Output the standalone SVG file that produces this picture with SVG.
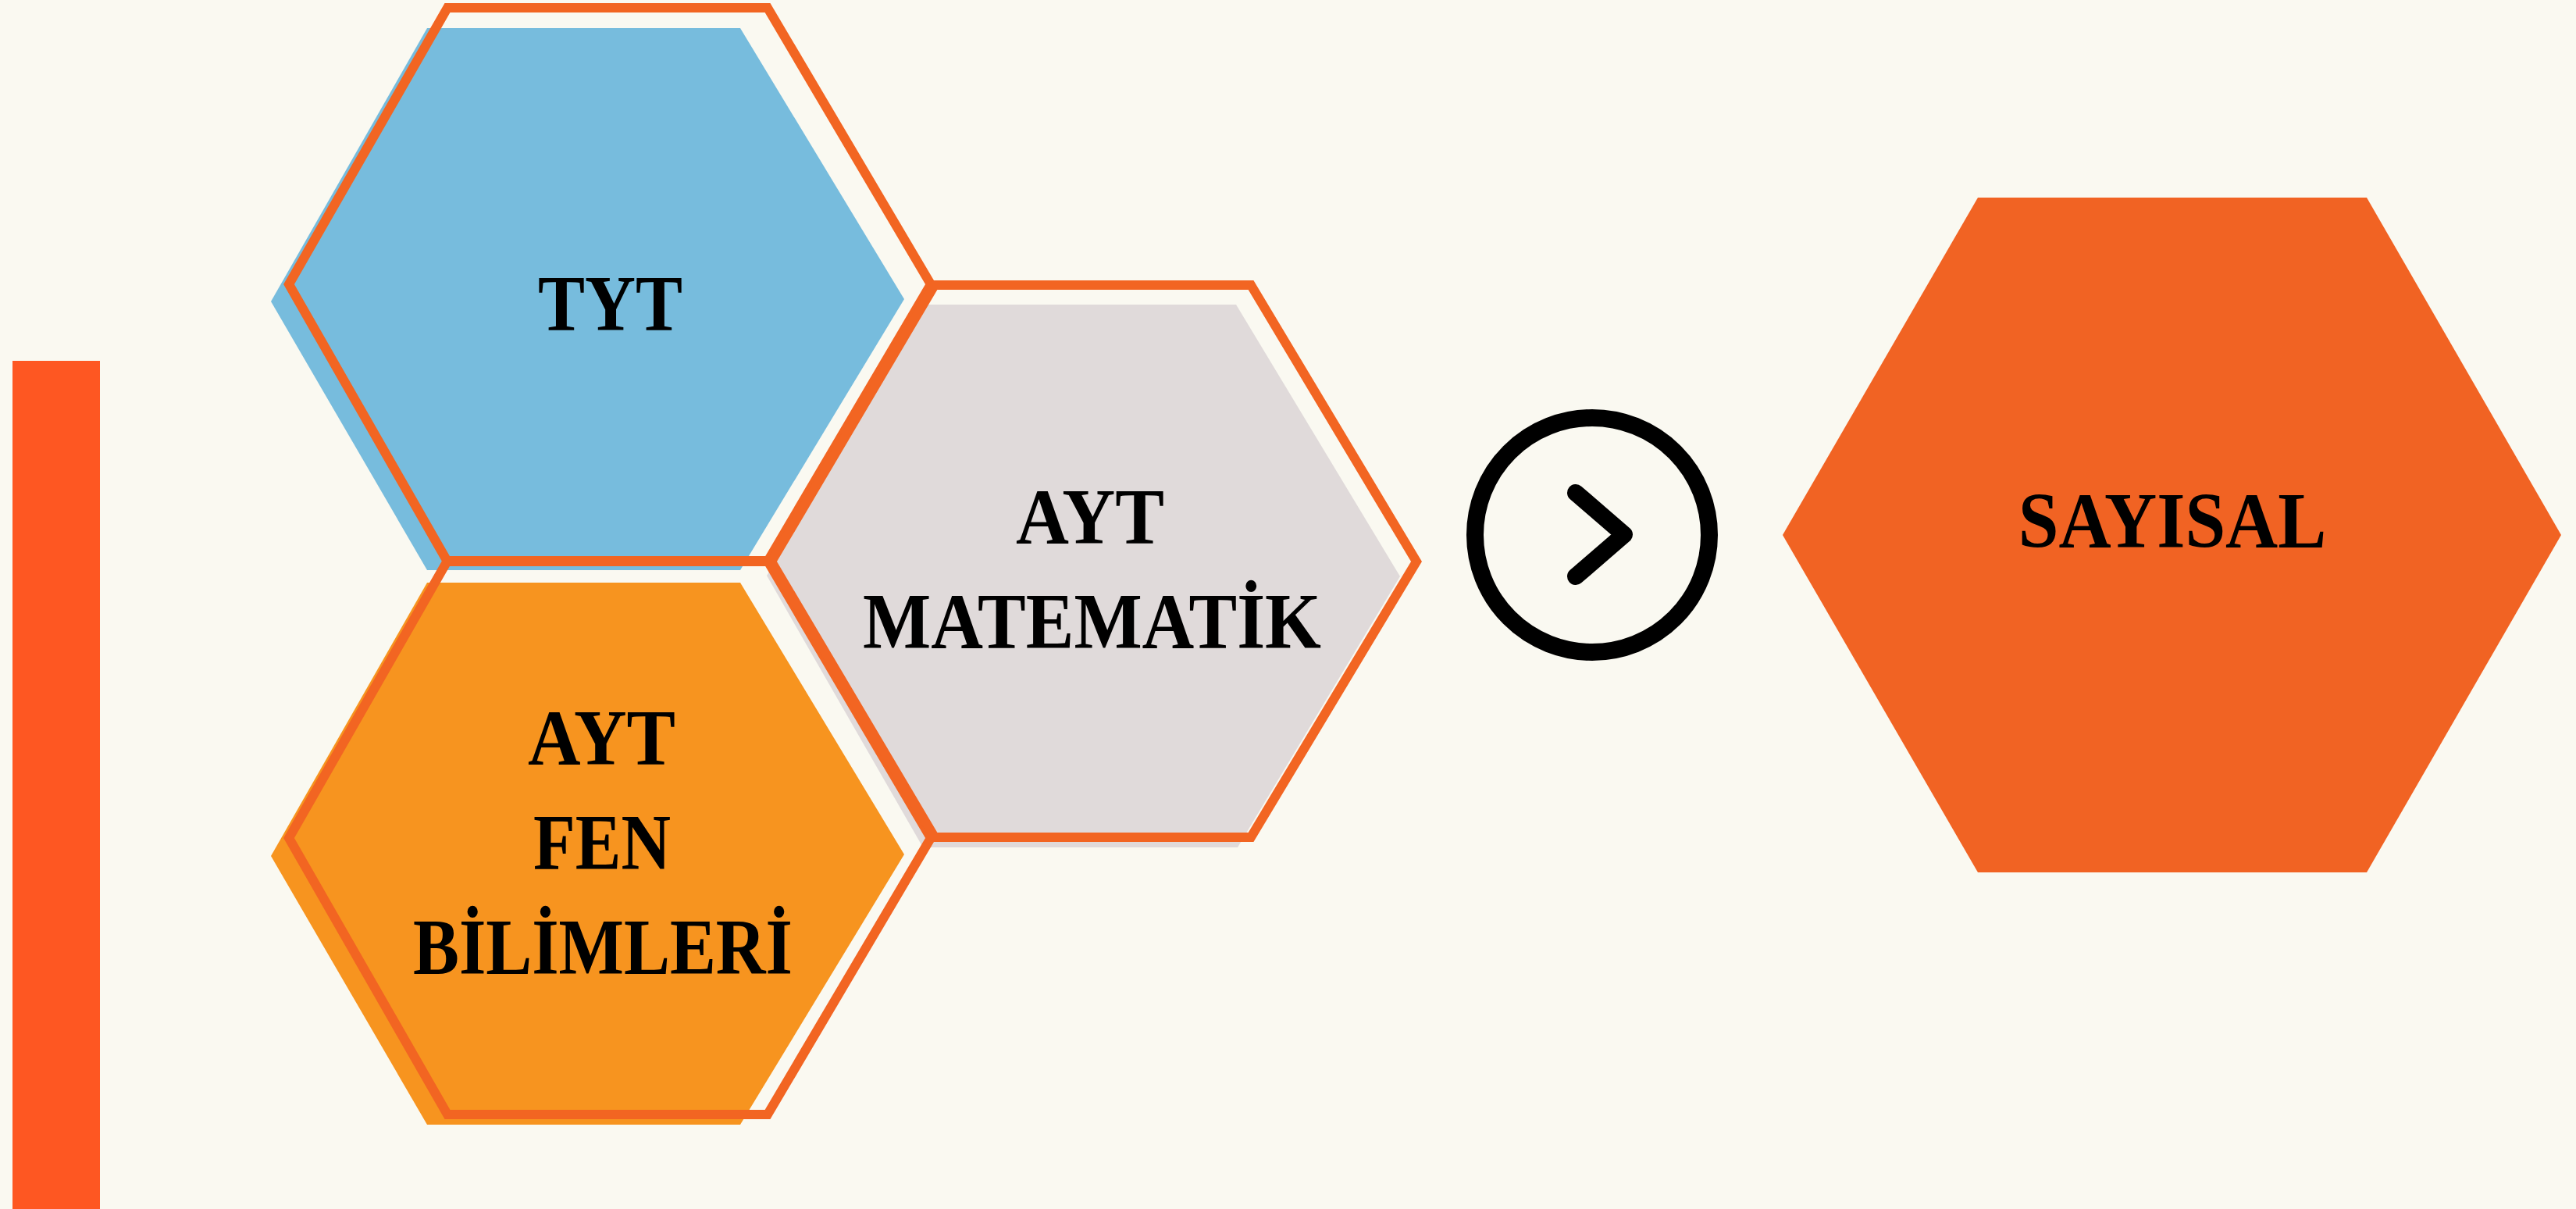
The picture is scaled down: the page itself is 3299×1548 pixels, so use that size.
<svg xmlns="http://www.w3.org/2000/svg" width="3299" height="1548" viewBox="0 0 3299 1548">
  <style>
    .lbl { font-family: "Liberation Serif", "Times New Roman", serif; font-weight: bold; font-size: 101px; fill: #000; text-anchor: middle; }
    .outline { fill: none; stroke: #F26522; stroke-width: 12; stroke-linejoin: miter; }
  </style>
  <rect x="0" y="0" width="3299" height="1548" fill="#FAF9F1"/>
  <rect id="side-bar" x="16" y="462" width="112" height="1086" fill="#FE5722"/>

  <g id="node-tyt">
    <polygon points="547,36 948,36 1158,383 948,730 547,730 347,386" fill="#77BCDD"/>
  </g>
  <g id="node-fen">
    <polygon points="547,746 948,746 1158,1094 948,1440 547,1440 347,1096" fill="#F7941F"/>
  </g>
  <g id="node-matematik">
    <polygon points="1188,390 1583,390 1793,738 1585,1085 1182,1085 982,737" fill="#E0DADA"/>
  </g>

  <g id="outlines">
    <polygon class="outline" points="573,10 983,10 1192,364 983,719 573,719 370,364"/>
    <polygon class="outline" points="573,718 983,718 1192,1073 983,1427 573,1427 370,1073"/>
    <polygon class="outline" points="1197,365 1602,365 1814,719 1602,1072 1197,1072 988,719"/>
  </g>

  <g id="labels">
    <text class="lbl" x="781.5" y="423" textLength="185" lengthAdjust="spacingAndGlyphs">TYT</text>
    <text class="lbl" x="1396" y="696" textLength="190" lengthAdjust="spacingAndGlyphs">AYT</text>
    <text class="lbl" x="1398.5" y="830" textLength="587" lengthAdjust="spacingAndGlyphs">MATEMATİK</text>
    <text class="lbl" x="770.5" y="979" textLength="189" lengthAdjust="spacingAndGlyphs">AYT</text>
    <text class="lbl" x="771" y="1113" textLength="176" lengthAdjust="spacingAndGlyphs">FEN</text>
    <text class="lbl" x="772" y="1247" textLength="486" lengthAdjust="spacingAndGlyphs">BİLİMLERİ</text>
  </g>

  <g id="connectors">
    <g id="arrow-icon">
      <circle cx="2039" cy="685" r="150" fill="none" stroke="#000" stroke-width="22"/>
      <polyline points="2018,631 2080,684.5 2018,738" fill="none" stroke="#000" stroke-width="22" stroke-linecap="round" stroke-linejoin="round"/>
    </g>
  </g>

  <g id="node-sayisal">
    <polygon points="2533,253 3031,253 3280,685 3031,1117 2533,1117 2283,685" fill="#F16323"/>
    <text class="lbl" x="2782" y="701" textLength="394.5" lengthAdjust="spacingAndGlyphs">SAYISAL</text>
  </g>
</svg>
